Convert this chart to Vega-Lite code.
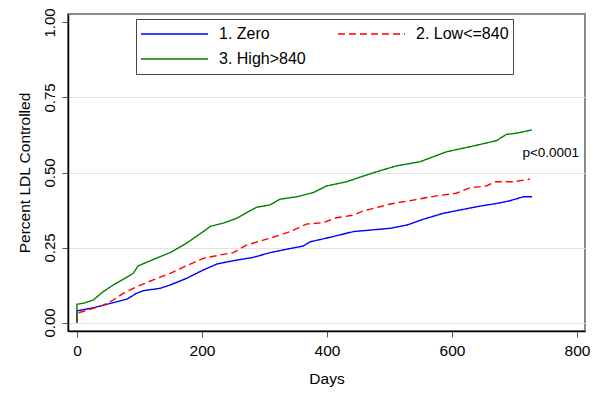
{
  "$schema": "https://vega.github.io/schema/vega-lite/v6.json",
  "width": 517,
  "height": 317,
  "autosize": "none",
  "padding": {"left": 68, "top": 14, "right": 15, "bottom": 69},
  "background": "white",
  "config": {
    "font": "Liberation Sans",
    "view": {"stroke": "#8a8a8a", "strokeWidth": 2}
  },
  "datasets": {
    "km": [
      {"g": "1. Zero", "i": 0, "d": 0, "p": 0},
      {"g": "1. Zero", "i": 1, "d": 0, "p": 0.039},
      {"g": "1. Zero", "i": 2, "d": 26, "p": 0.049},
      {"g": "1. Zero", "i": 3, "d": 58, "p": 0.066},
      {"g": "1. Zero", "i": 4, "d": 80, "p": 0.078},
      {"g": "1. Zero", "i": 5, "d": 95, "p": 0.097},
      {"g": "1. Zero", "i": 6, "d": 106, "p": 0.106},
      {"g": "1. Zero", "i": 7, "d": 133, "p": 0.114},
      {"g": "1. Zero", "i": 8, "d": 149, "p": 0.125},
      {"g": "1. Zero", "i": 9, "d": 175, "p": 0.147},
      {"g": "1. Zero", "i": 10, "d": 202, "p": 0.175},
      {"g": "1. Zero", "i": 11, "d": 224, "p": 0.195},
      {"g": "1. Zero", "i": 12, "d": 250, "p": 0.206},
      {"g": "1. Zero", "i": 13, "d": 282, "p": 0.217},
      {"g": "1. Zero", "i": 14, "d": 309, "p": 0.233},
      {"g": "1. Zero", "i": 15, "d": 335, "p": 0.244},
      {"g": "1. Zero", "i": 16, "d": 362, "p": 0.255},
      {"g": "1. Zero", "i": 17, "d": 373, "p": 0.269},
      {"g": "1. Zero", "i": 18, "d": 405, "p": 0.284},
      {"g": "1. Zero", "i": 19, "d": 442, "p": 0.303},
      {"g": "1. Zero", "i": 20, "d": 469, "p": 0.308},
      {"g": "1. Zero", "i": 21, "d": 501, "p": 0.314},
      {"g": "1. Zero", "i": 22, "d": 528, "p": 0.325},
      {"g": "1. Zero", "i": 23, "d": 554, "p": 0.344},
      {"g": "1. Zero", "i": 24, "d": 586, "p": 0.364},
      {"g": "1. Zero", "i": 25, "d": 613, "p": 0.375},
      {"g": "1. Zero", "i": 26, "d": 645, "p": 0.388},
      {"g": "1. Zero", "i": 27, "d": 672, "p": 0.397},
      {"g": "1. Zero", "i": 28, "d": 693, "p": 0.406},
      {"g": "1. Zero", "i": 29, "d": 714, "p": 0.419},
      {"g": "1. Zero", "i": 30, "d": 728, "p": 0.419},
      {"g": "2. Low<=840", "i": 0, "d": 0, "p": 0},
      {"g": "2. Low<=840", "i": 1, "d": 0, "p": 0.031},
      {"g": "2. Low<=840", "i": 2, "d": 26, "p": 0.047},
      {"g": "2. Low<=840", "i": 3, "d": 42, "p": 0.058},
      {"g": "2. Low<=840", "i": 4, "d": 58, "p": 0.075},
      {"g": "2. Low<=840", "i": 5, "d": 74, "p": 0.097},
      {"g": "2. Low<=840", "i": 6, "d": 95, "p": 0.119},
      {"g": "2. Low<=840", "i": 7, "d": 122, "p": 0.142},
      {"g": "2. Low<=840", "i": 8, "d": 149, "p": 0.164},
      {"g": "2. Low<=840", "i": 9, "d": 175, "p": 0.189},
      {"g": "2. Low<=840", "i": 10, "d": 202, "p": 0.214},
      {"g": "2. Low<=840", "i": 11, "d": 229, "p": 0.225},
      {"g": "2. Low<=840", "i": 12, "d": 250, "p": 0.233},
      {"g": "2. Low<=840", "i": 13, "d": 271, "p": 0.258},
      {"g": "2. Low<=840", "i": 14, "d": 309, "p": 0.281},
      {"g": "2. Low<=840", "i": 15, "d": 341, "p": 0.303},
      {"g": "2. Low<=840", "i": 16, "d": 367, "p": 0.328},
      {"g": "2. Low<=840", "i": 17, "d": 394, "p": 0.333},
      {"g": "2. Low<=840", "i": 18, "d": 415, "p": 0.349},
      {"g": "2. Low<=840", "i": 19, "d": 442, "p": 0.358},
      {"g": "2. Low<=840", "i": 20, "d": 458, "p": 0.372},
      {"g": "2. Low<=840", "i": 21, "d": 485, "p": 0.386},
      {"g": "2. Low<=840", "i": 22, "d": 501, "p": 0.395},
      {"g": "2. Low<=840", "i": 23, "d": 538, "p": 0.408},
      {"g": "2. Low<=840", "i": 24, "d": 575, "p": 0.422},
      {"g": "2. Low<=840", "i": 25, "d": 607, "p": 0.431},
      {"g": "2. Low<=840", "i": 26, "d": 629, "p": 0.449},
      {"g": "2. Low<=840", "i": 27, "d": 655, "p": 0.455},
      {"g": "2. Low<=840", "i": 28, "d": 669, "p": 0.469},
      {"g": "2. Low<=840", "i": 29, "d": 698, "p": 0.469},
      {"g": "2. Low<=840", "i": 30, "d": 725, "p": 0.478},
      {"g": "3. High>840", "i": 0, "d": 0, "p": 0},
      {"g": "3. High>840", "i": 1, "d": 0, "p": 0.061},
      {"g": "3. High>840", "i": 2, "d": 10, "p": 0.064},
      {"g": "3. High>840", "i": 3, "d": 26, "p": 0.075},
      {"g": "3. High>840", "i": 4, "d": 42, "p": 0.103},
      {"g": "3. High>840", "i": 5, "d": 58, "p": 0.125},
      {"g": "3. High>840", "i": 6, "d": 74, "p": 0.144},
      {"g": "3. High>840", "i": 7, "d": 90, "p": 0.164},
      {"g": "3. High>840", "i": 8, "d": 98, "p": 0.189},
      {"g": "3. High>840", "i": 9, "d": 122, "p": 0.21},
      {"g": "3. High>840", "i": 10, "d": 149, "p": 0.233},
      {"g": "3. High>840", "i": 11, "d": 175, "p": 0.264},
      {"g": "3. High>840", "i": 12, "d": 202, "p": 0.303},
      {"g": "3. High>840", "i": 13, "d": 213, "p": 0.32},
      {"g": "3. High>840", "i": 14, "d": 235, "p": 0.332},
      {"g": "3. High>840", "i": 15, "d": 255, "p": 0.347},
      {"g": "3. High>840", "i": 16, "d": 287, "p": 0.384},
      {"g": "3. High>840", "i": 17, "d": 309, "p": 0.392},
      {"g": "3. High>840", "i": 18, "d": 325, "p": 0.411},
      {"g": "3. High>840", "i": 19, "d": 351, "p": 0.419},
      {"g": "3. High>840", "i": 20, "d": 378, "p": 0.433},
      {"g": "3. High>840", "i": 21, "d": 399, "p": 0.455},
      {"g": "3. High>840", "i": 22, "d": 431, "p": 0.469},
      {"g": "3. High>840", "i": 23, "d": 458, "p": 0.488},
      {"g": "3. High>840", "i": 24, "d": 485, "p": 0.506},
      {"g": "3. High>840", "i": 25, "d": 511, "p": 0.522},
      {"g": "3. High>840", "i": 26, "d": 549, "p": 0.536},
      {"g": "3. High>840", "i": 27, "d": 591, "p": 0.569},
      {"g": "3. High>840", "i": 28, "d": 629, "p": 0.586},
      {"g": "3. High>840", "i": 29, "d": 671, "p": 0.606},
      {"g": "3. High>840", "i": 30, "d": 687, "p": 0.627},
      {"g": "3. High>840", "i": 31, "d": 703, "p": 0.631},
      {"g": "3. High>840", "i": 32, "d": 728, "p": 0.642}
    ],
    "note": [{"d": 758, "p": 0.565, "t": "p<0.0001"}]
  },
  "layer": [
    {
      "data": {"name": "km"},
      "mark": {"type": "line", "strokeWidth": 1.4, "interpolate": "linear"},
      "encoding": {
        "x": {
          "field": "d", "type": "quantitative",
          "scale": {"domain": [-14.4, 812.8], "nice": false, "zero": false},
          "axis": {
            "title": "Days", "values": [0, 200, 400, 600, 800], "grid": false,
            "domainColor": "black", "domainWidth": 1.5,
            "tickColor": "#555", "tickSize": 6, "tickWidth": 1,
            "labelFontSize": 15.5, "labelColor": "black", "labelPadding": 6,
            "labelBaseline": "top", "labelFlush": false, "labelOverlap": false,
            "titleFontSize": 15.5, "titleFontWeight": "normal", "titleColor": "black",
            "titleY": 52, "titleBaseline": "alphabetic"
          }
        },
        "y": {
          "field": "p", "type": "quantitative",
          "scale": {"domain": [-0.0283, 1.0283], "nice": false, "zero": false},
          "axis": {
            "title": "Percent LDL Controlled", "values": [0, 0.25, 0.5, 0.75, 1], "format": ".2f",
            "grid": true, "gridColor": "#e2e2e2", "gridWidth": 1.2,
            "gridOpacity": {"condition": {"test": "datum.value >= 1", "value": 0}, "value": 1},
            "domainColor": "black", "domainWidth": 1.5,
            "tickColor": "#555", "tickSize": 6, "tickWidth": 1,
            "labelFontSize": 15, "labelColor": "black", "labelPadding": 8,
            "labelAngle": 270, "labelAlign": "center", "labelBaseline": "alphabetic",
            "labelFlush": false, "labelOverlap": false,
            "titleFontSize": 15.5, "titleFontWeight": "normal", "titleColor": "black",
            "titleAngle": 270, "titleX": -39, "titleY": 158.5, "titleBaseline": "alphabetic", "titleAlign": "center"
          }
        },
        "order": {"field": "i", "type": "quantitative"},
        "color": {
          "field": "g", "type": "nominal",
          "scale": {"domain": ["1. Zero", "2. Low<=840", "3. High>840"], "range": ["#0000ff", "#ff0000", "#008000"]},
          "legend": {
            "title": null, "orient": "none", "legendX": 68, "legendY": 5,
            "direction": "horizontal", "columns": 2,
            "symbolType": "stroke", "symbolSize": 4489, "symbolStrokeWidth": 1.5,
            "clipHeight": 22, "rowPadding": 3, "columnPadding": 31, "labelOffset": 10,
            "padding": 4, "strokeColor": "#444", "fillColor": "white",
            "labelFontSize": 16, "labelFont": "Liberation Sans", "labelColor": "black", "labelLimit": 200
          }
        },
        "strokeDash": {
          "field": "g", "type": "nominal",
          "scale": {"domain": ["1. Zero", "2. Low<=840", "3. High>840"], "range": [[1, 0], [7, 4], [1, 0]]},
          "legend": {
            "title": null, "orient": "none", "legendX": 68, "legendY": 5,
            "direction": "horizontal", "columns": 2,
            "symbolType": "stroke", "symbolSize": 4489, "symbolStrokeWidth": 1.5,
            "clipHeight": 22, "rowPadding": 3, "columnPadding": 31, "labelOffset": 10,
            "padding": 4, "strokeColor": "#444", "fillColor": "white",
            "labelFontSize": 16, "labelFont": "Liberation Sans", "labelColor": "black", "labelLimit": 200
          }
        }
      }
    },
    {
      "data": {"name": "note"},
      "mark": {"type": "text", "fontSize": 13.5, "align": "center", "baseline": "middle", "color": "black", "font": "Liberation Sans"},
      "encoding": {
        "x": {"field": "d", "type": "quantitative"},
        "y": {"field": "p", "type": "quantitative"},
        "text": {"field": "t"}
      }
    }
  ]
}
